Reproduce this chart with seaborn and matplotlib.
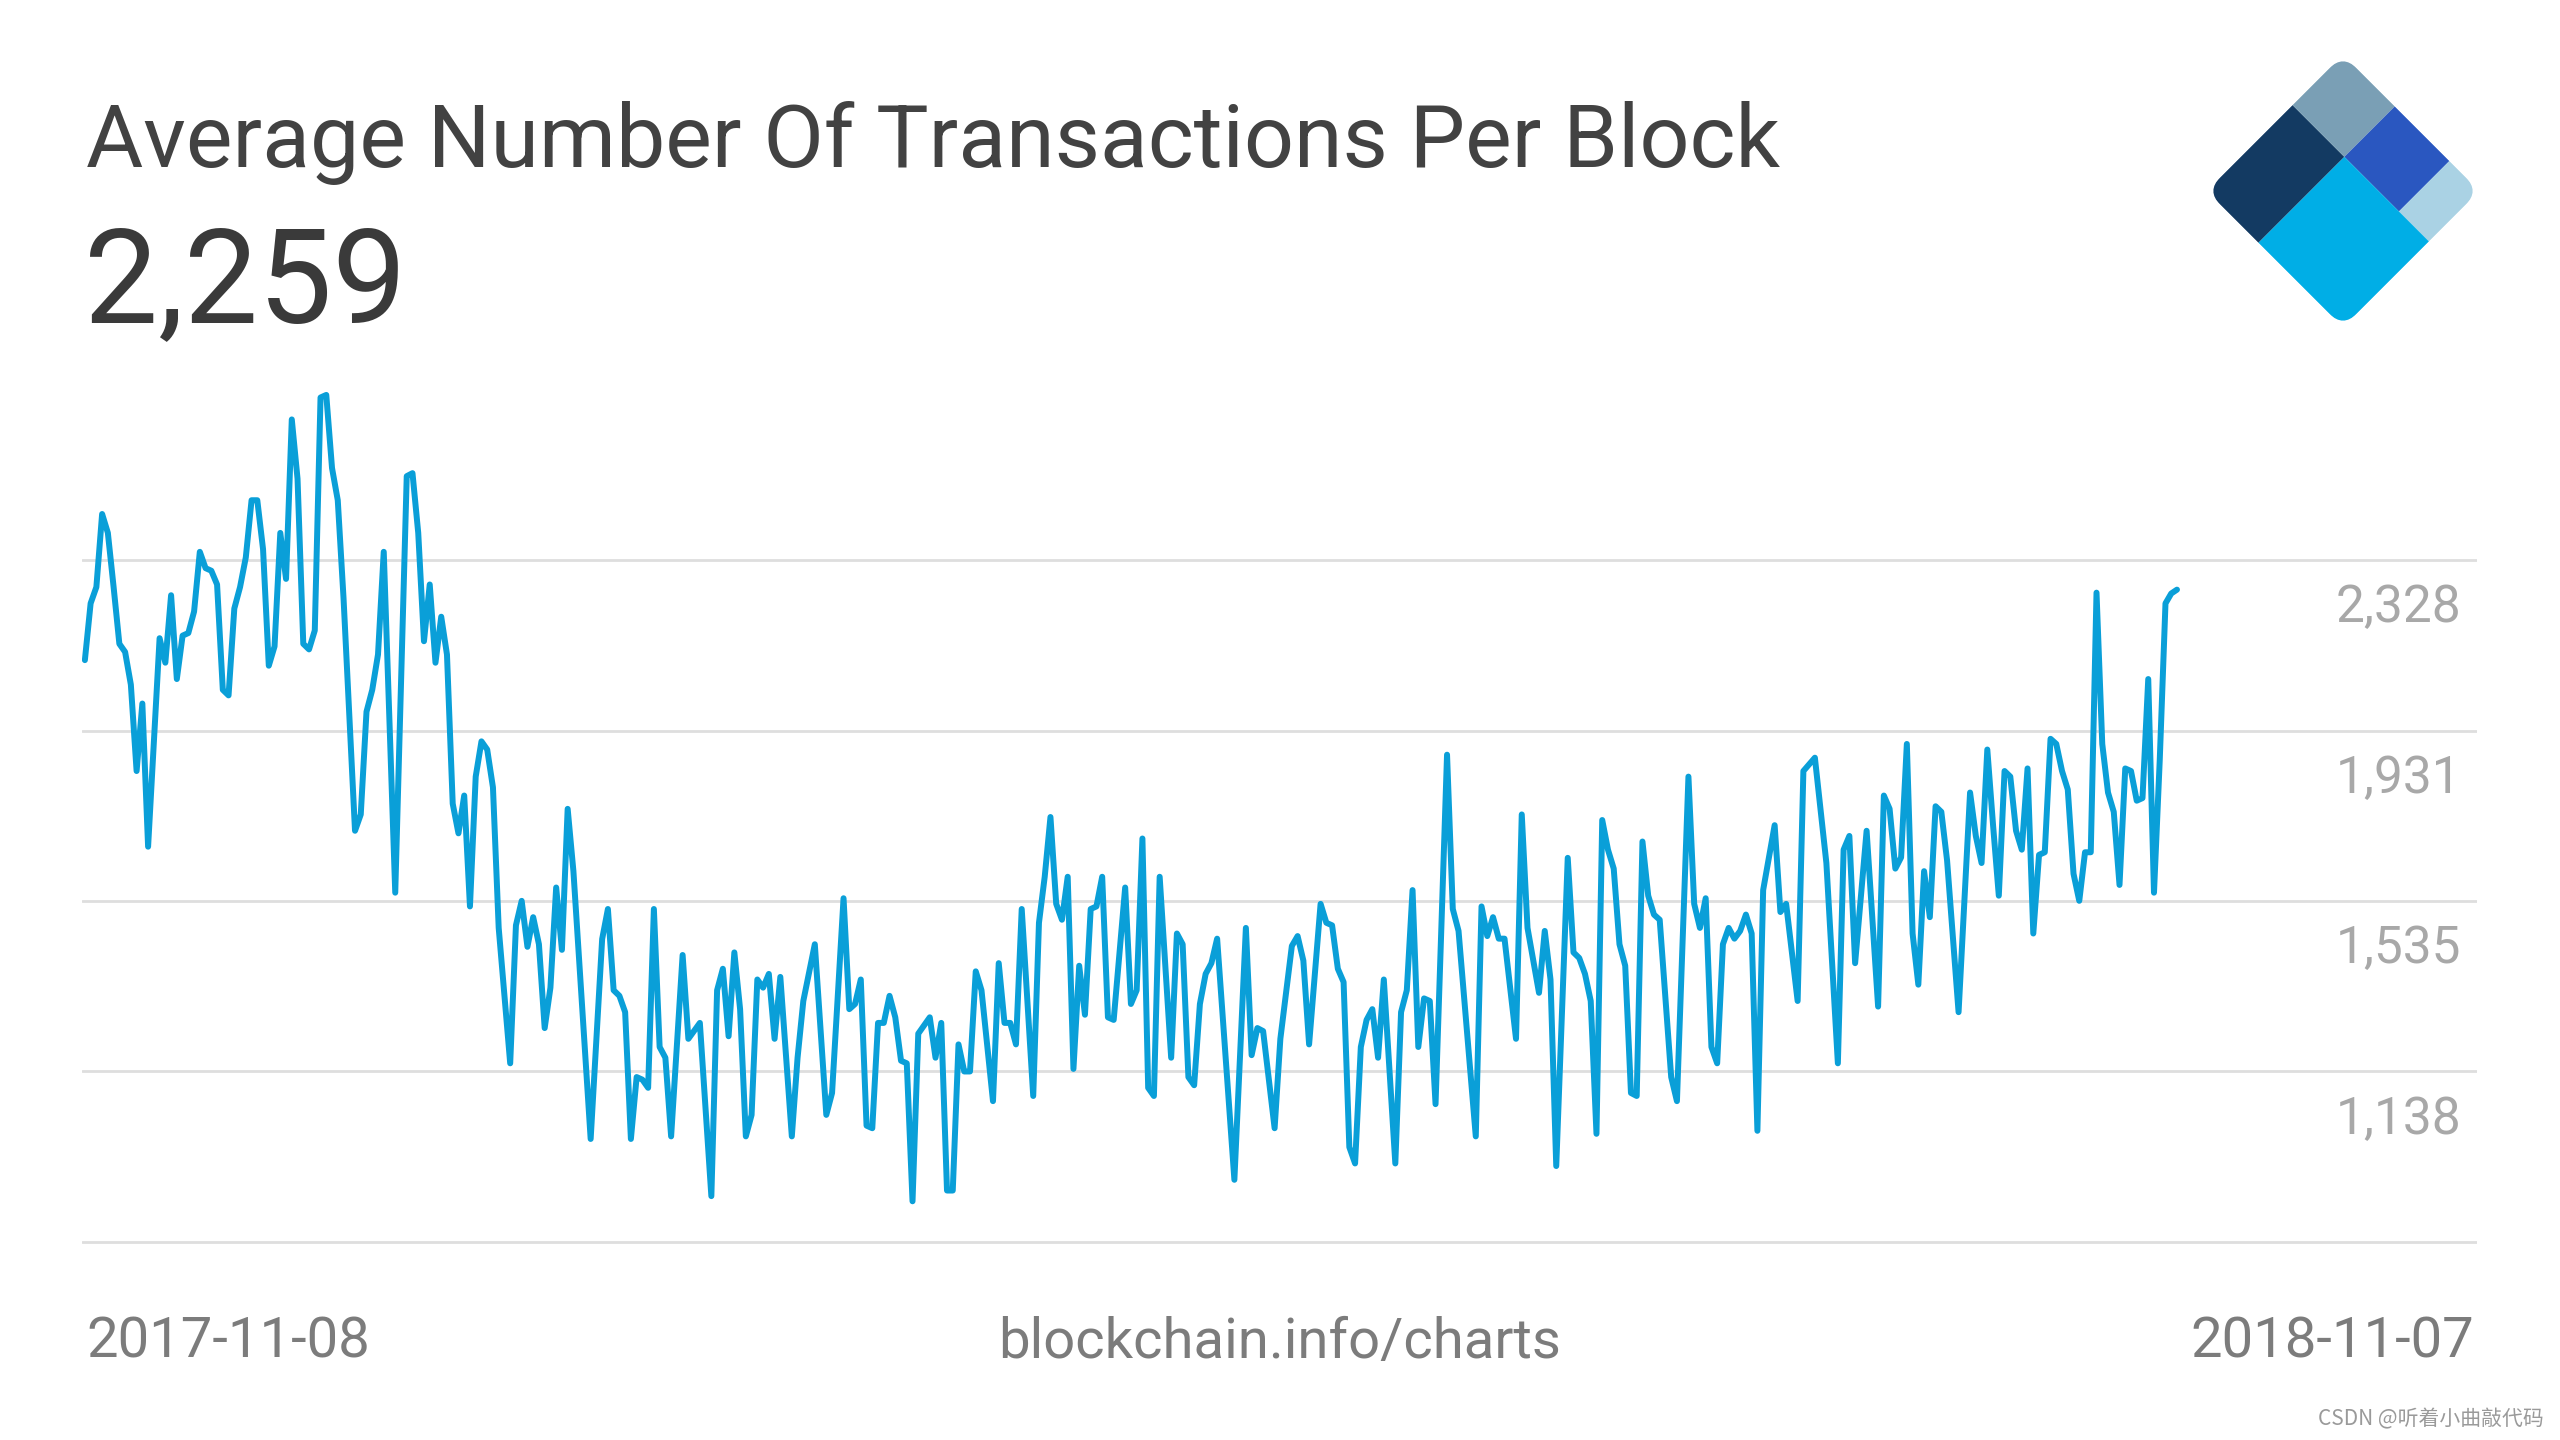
import pandas as pd
import matplotlib
matplotlib.use("Agg")
import matplotlib.pyplot as plt
import seaborn as sns
from matplotlib.patches import Rectangle, FancyBboxPatch
from matplotlib.transforms import Affine2D

# Data: day offset from 2017-11-08 and average tx per block
start_date = "2017-11-08"
end_date_label = "2018-11-07"
days = [
    0, 1, 2, 3, 4, 5, 6, 7, 8, 9, 10, 11, 13, 14, 15, 16, 17, 18, 19, 20,
    21, 22, 23, 24, 25, 26, 27, 28, 29, 30, 31, 32, 33, 34, 35, 36, 37, 38, 39, 40,
    41, 42, 43, 44, 45, 47, 48, 49, 50, 51, 52, 54, 56, 57, 58, 59, 60, 61, 62, 63,
    64, 65, 66, 67, 68, 69, 70, 71, 72, 74, 75, 76, 77, 78, 79, 80, 81, 82, 83, 84,
    85, 88, 90, 91, 92, 93, 94, 95, 96, 97, 98, 99, 100, 101, 102, 104, 105, 107, 109, 110,
    111, 112, 113, 114, 115, 116, 117, 118, 119, 120, 121, 123, 124, 125, 127, 129, 130, 132, 133, 134,
    135, 136, 137, 138, 139, 140, 141, 142, 143, 144, 145, 147, 148, 149, 150, 151, 152, 153, 154, 155,
    156, 158, 159, 160, 161, 162, 163, 165, 166, 167, 168, 169, 170, 171, 172, 173, 174, 175, 176, 177,
    178, 179, 181, 182, 183, 184, 185, 186, 187, 189, 190, 191, 192, 193, 194, 195, 196, 197, 200, 202,
    203, 204, 205, 207, 208, 210, 211, 212, 213, 215, 216, 217, 218, 219, 220, 221, 222, 223, 224, 225,
    226, 228, 229, 230, 231, 232, 233, 234, 235, 237, 238, 239, 242, 243, 244, 245, 246, 247, 249, 250,
    251, 253, 254, 255, 256, 258, 259, 260, 261, 262, 263, 264, 265, 266, 267, 268, 269, 270, 271, 272,
    273, 274, 276, 277, 279, 280, 281, 282, 283, 284, 285, 286, 287, 288, 289, 290, 291, 292, 294, 295,
    296, 298, 299, 301, 303, 305, 306, 307, 308, 310, 312, 313, 314, 315, 316, 317, 318, 319, 320, 321,
    322, 323, 324, 326, 328, 329, 330, 331, 332, 333, 334, 335, 336, 337, 338, 339, 340, 341, 342, 343,
    344, 345, 346, 347, 348, 349, 350, 351, 352, 353, 354, 355, 356, 357, 358, 359, 360, 361, 362, 363,
    364,
]
tx_per_block = [
    2095, 2227, 2265, 2435, 2391, 2265, 2133, 2114, 2038, 1837, 1994, 1661, 2146, 2089, 2246, 2051, 2152, 2158, 2208, 2347,
    2309, 2303, 2271, 2026, 2013, 2215, 2265, 2334, 2467, 2467, 2353, 2082, 2127, 2391, 2284, 2655, 2517, 2133, 2120, 2164,
    2706, 2712, 2542, 2467, 2240, 1698, 1736, 1975, 2026, 2108, 2347, 1554, 2523, 2530, 2391, 2139, 2271, 2089, 2196, 2108,
    1761, 1692, 1780, 1522, 1824, 1906, 1887, 1799, 1472, 1157, 1478, 1535, 1428, 1497, 1434, 1239, 1333, 1566, 1421, 1749,
    1604, 981, 1446, 1516, 1327, 1314, 1276, 981, 1125, 1119, 1100, 1516, 1195, 1170, 987, 1409, 1214, 1251, 848, 1327,
    1377, 1220, 1415, 1283, 987, 1037, 1352, 1333, 1365, 1214, 1358, 987, 1170, 1302, 1434, 1037, 1088, 1541, 1283, 1295,
    1352, 1012, 1006, 1251, 1251, 1314, 1264, 1163, 1157, 836, 1226, 1264, 1170, 1251, 861, 861, 1201, 1138, 1138, 1371,
    1327, 1069, 1390, 1251, 1251, 1201, 1516, 1081, 1484, 1591, 1730, 1528, 1491, 1591, 1144, 1384, 1270, 1516, 1522, 1591,
    1264, 1258, 1566, 1295, 1327, 1680, 1100, 1081, 1591, 1170, 1459, 1434, 1125, 1106, 1295, 1365, 1390, 1447, 886, 1472,
    1176, 1239, 1232, 1006, 1214, 1430, 1453, 1396, 1201, 1528, 1484, 1478, 1377, 1346, 962, 924, 1195, 1258, 1283, 1170,
    1352, 924, 1276, 1327, 1560, 1195, 1308, 1302, 1062, 1875, 1516, 1465, 987, 1522, 1453, 1497, 1447, 1447, 1214, 1736,
    1472, 1321, 1465, 1352, 918, 1635, 1415, 1402, 1365, 1302, 993, 1723, 1654, 1610, 1434, 1384, 1088, 1081, 1673, 1547,
    1503, 1491, 1125, 1069, 1824, 1528, 1472, 1541, 1195, 1157, 1434, 1472, 1447, 1465, 1503, 1459, 1000, 1560, 1711, 1509,
    1528, 1302, 1837, 1868, 1623, 1157, 1654, 1686, 1390, 1698, 1289, 1780, 1749, 1610, 1636, 1900, 1459, 1340, 1604, 1497,
    1755, 1742, 1629, 1276, 1787, 1686, 1623, 1887, 1711, 1547, 1837, 1824, 1698, 1654, 1843, 1459, 1642, 1648, 1912, 1900,
    1837, 1794, 1598, 1535, 1648, 1648, 2252, 1900, 1787, 1742, 1572, 1843, 1837, 1768, 1774, 2051, 1554, 1862, 2227, 2250,
    2259,
]
grid_values = [741, 1138, 1535, 1931, 2328]
grid_labels = ["", "1,138", "1,535", "1,931", "2,328"]
title = "Average Number Of Transactions Per Block"
latest_label = "2,259"
source_label = "blockchain.info/charts"
watermark = "CSDN @听着小曲敲代码"

df = pd.DataFrame({
    "date": pd.Timestamp(start_date) + pd.to_timedelta(days, unit="D"),
    "value": tx_per_block,
})

sns.set_theme(style="white")
plt.rcParams["font.family"] = ["Roboto", "DejaVu Sans"]

W, H = 2560, 1440
fig = plt.figure(figsize=(25.6, 14.4), dpi=100)
fig.patch.set_facecolor("white")

# main plot area (pixel layout)
ax_top, ax_bot = 378.6, 1244.7
ax = fig.add_axes([82 / W, 1 - ax_bot / H, (2477 - 82) / W, (ax_bot - ax_top) / H])
sns.lineplot(data=df, x="date", y="value", ax=ax, color="#0a9fd8", linewidth=4.3)

t0 = pd.Timestamp(start_date)
ax.set_xlim(t0 - pd.Timedelta(days=0.5), t0 + pd.Timedelta(days=416.2))
ax.set_ylim(735, 2750)
ax.set_yticks(grid_values)
ax.yaxis.grid(True, color="#dedede", linewidth=2)
ax.xaxis.grid(False)
ax.tick_params(length=0, labelleft=False, labelbottom=False)
ax.set_xlabel("")
ax.set_ylabel("")
for s in ax.spines.values():
    s.set_visible(False)

for val, lab in zip(grid_values, grid_labels):
    if lab:
        ax.annotate(lab, xy=(0.9935, val), xycoords=("axes fraction", "data"),
                    xytext=(0, -45), textcoords="offset points",
                    ha="right", va="baseline", fontsize=37, color="#a8a8a8")

# header texts
fig.text(86 / W, 1 - 167 / H, title, fontsize=63.3, color="#424242", ha="left", va="baseline")
fig.text(84 / W, 1 - 322 / H, latest_label, fontsize=95, color="#3a3a3a", ha="left", va="baseline")

# footer texts
fig.text(86 / W, 1 - 1358 / H, start_date, fontsize=40.5, color="#7c7c7c", ha="left", va="baseline")
fig.text(0.5, 1 - 1358 / H, source_label, fontsize=40.5, color="#7c7c7c", ha="center", va="baseline")
fig.text(2474 / W, 1 - 1358 / H, end_date_label, fontsize=40.5, color="#7c7c7c", ha="right", va="baseline")
fig.text(2544 / W, 1 - 1425 / H, watermark, fontsize=15, color="#9a9a9a", ha="right", va="baseline",
         family=["Noto Sans CJK SC", "DejaVu Sans"])

# logo: rotated rounded square split in coloured parts
cx, cy, half = 2343, 191, 193
lax = fig.add_axes([(cx - half) / W, 1 - (cy + half) / H, 2 * half / W, 2 * half / H])
lax.set_xlim(-1, 1)
lax.set_ylim(-1, 1)
lax.axis("off")
tr = Affine2D().translate(-0.5, -0.5).scale(1, -1).rotate_deg(-45) + lax.transData
clip = FancyBboxPatch((0, 0), 1, 1, boxstyle="round,pad=0,rounding_size=0.1",
                      transform=tr, facecolor="none", edgecolor="none")
lax.add_patch(clip)
logo_parts = [
    ((0, 0.37), 0.38, 0.63, "#133a62"),
    ((0, 0), 0.38, 0.37, "#7a9fb5"),
    ((0.38, 0), 0.40, 0.37, "#2a57c0"),
    ((0.78, 0), 0.22, 0.37, "#aad2e4"),
    ((0.38, 0.37), 0.62, 0.63, "#00aee6"),
]
for xy, w, h, c in logo_parts:
    r = Rectangle(xy, w, h, transform=tr, facecolor=c, edgecolor="none")
    lax.add_patch(r)
    r.set_clip_path(clip)

fig.savefig("out.png", dpi=100, facecolor="white")
